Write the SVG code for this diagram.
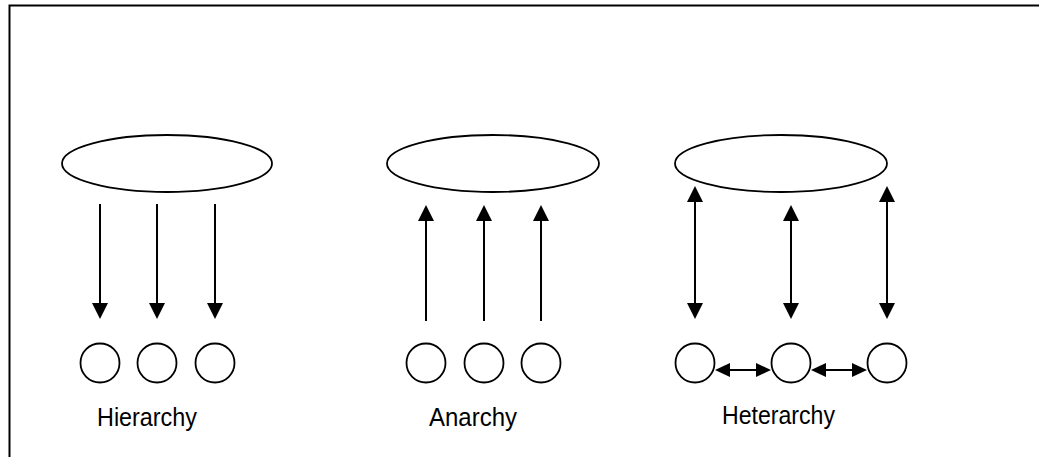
<svg xmlns="http://www.w3.org/2000/svg" width="1039" height="457" viewBox="0 0 1039 457">
<style>
.shape{fill:#fff;stroke:#000;stroke-width:1.8}
.conn{stroke:#000;stroke-width:2;fill:none}
.lbl{font-family:"Liberation Sans",Arial,sans-serif;font-size:25px;fill:#000}
</style>
<defs>
<marker id="ah" markerUnits="userSpaceOnUse" markerWidth="16" markerHeight="16" viewBox="0 0 16 16" refX="14" refY="8" orient="auto-start-reverse">
<path d="M0,0 L16,8 L0,16 z" fill="#000"/>
</marker>
<marker id="ahs" markerUnits="userSpaceOnUse" markerWidth="15" markerHeight="14" viewBox="0 0 15 14" refX="13" refY="7" orient="auto-start-reverse">
<path d="M0,0 L15,7 L0,14 z" fill="#000"/>
</marker>
</defs>
<rect width="1039" height="457" fill="#fff"/>
<g id="frame">
<path d="M9.5,457 V5.5 H1039" fill="none" stroke="#000" stroke-width="2"/>
</g>
<g id="hierarchy-top"><ellipse class="shape" cx="167" cy="163.5" rx="105" ry="28.5"/></g>
<g id="hierarchy-n1"><circle class="shape" cx="100" cy="363" r="19.5"/></g>
<g id="hierarchy-n2"><circle class="shape" cx="157" cy="363" r="19.5"/></g>
<g id="hierarchy-n3"><circle class="shape" cx="215" cy="363" r="19.5"/></g>
<g id="anarchy-top"><ellipse class="shape" cx="493" cy="163.5" rx="106" ry="28.5"/></g>
<g id="anarchy-n1"><circle class="shape" cx="426" cy="363" r="19.5"/></g>
<g id="anarchy-n2"><circle class="shape" cx="484" cy="363" r="19.5"/></g>
<g id="anarchy-n3"><circle class="shape" cx="541" cy="363" r="19.5"/></g>
<g id="heterarchy-top"><ellipse class="shape" cx="781" cy="163.5" rx="106" ry="28.5"/></g>
<g id="heterarchy-n1"><circle class="shape" cx="695" cy="363" r="19.5"/></g>
<g id="heterarchy-n2"><circle class="shape" cx="791" cy="363" r="19.5"/></g>
<g id="heterarchy-n3"><circle class="shape" cx="887" cy="363" r="19.5"/></g>
<g id="connectors">
<line class="conn" x1="100" y1="204" x2="100" y2="317" marker-end="url(#ah)"/>
<line class="conn" x1="157" y1="204" x2="157" y2="317" marker-end="url(#ah)"/>
<line class="conn" x1="215" y1="204" x2="215" y2="317" marker-end="url(#ah)"/>
<line class="conn" x1="426" y1="321" x2="426" y2="207" marker-end="url(#ah)"/>
<line class="conn" x1="484" y1="321" x2="484" y2="207" marker-end="url(#ah)"/>
<line class="conn" x1="541" y1="321" x2="541" y2="207" marker-end="url(#ah)"/>
<line class="conn" x1="695" y1="188" x2="695" y2="317" marker-start="url(#ah)" marker-end="url(#ah)"/>
<line class="conn" x1="791" y1="207" x2="791" y2="317" marker-start="url(#ah)" marker-end="url(#ah)"/>
<line class="conn" x1="887" y1="188" x2="887" y2="317" marker-start="url(#ah)" marker-end="url(#ah)"/>
<line class="conn" x1="717" y1="370" x2="769" y2="370" marker-start="url(#ahs)" marker-end="url(#ahs)"/>
<line class="conn" x1="813" y1="370" x2="865" y2="370" marker-start="url(#ahs)" marker-end="url(#ahs)"/>
</g>
<g id="labels">
<text class="lbl" x="97" y="426" textLength="100" lengthAdjust="spacingAndGlyphs">Hierarchy</text>
<text class="lbl" x="429" y="426" textLength="88" lengthAdjust="spacingAndGlyphs">Anarchy</text>
<text class="lbl" x="722" y="424" textLength="113" lengthAdjust="spacingAndGlyphs">Heterarchy</text>
</g>
</svg>
